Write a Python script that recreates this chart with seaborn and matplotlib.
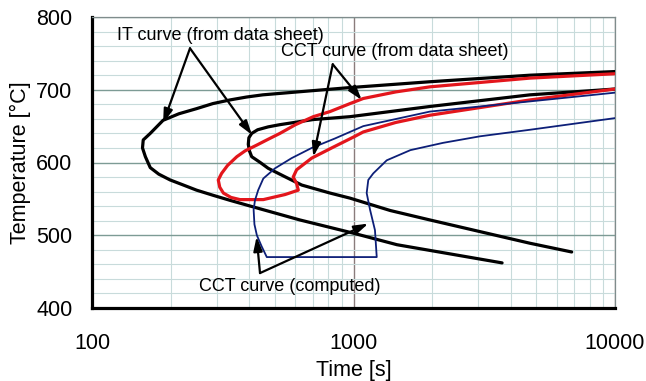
import numpy as np
import pandas as pd
import seaborn as sns
import matplotlib
matplotlib.use("Agg")
import matplotlib.pyplot as plt
from matplotlib.ticker import MultipleLocator, LogLocator, FixedLocator, NullFormatter

# ---- data ----
it_big_time = [10000, 4730, 1960, 970, 610, 450, 390, 337, 290, 251, 215, 187, 167, 157, 156, 160, 167, 180, 199, 220, 251, 290, 337, 413, 624, 995, 1466, 3700]
it_big_temp = [725, 720, 711, 703, 697, 693, 690, 686, 681, 674, 667, 658, 640, 631, 620, 608, 593, 584, 576, 570, 562, 555, 548, 539, 521, 503, 487, 462]

it_small_time = [10000, 4730, 1960, 970, 700, 523, 472, 430, 408, 398, 396, 400, 408, 440, 472, 550, 634, 813, 970, 1382, 1961, 4730, 6830]
it_small_temp = [701, 693, 677, 663, 659, 652, 649, 645, 640, 634, 625, 616, 608, 600, 592, 580, 569, 558, 551, 534, 521, 489, 477]

cct_sheet_time = [10000, 4730, 1960, 1450, 1090, 970, 813, 702, 600, 523, 472, 427, 385, 358, 330, 313, 304, 308, 318, 340, 368, 452, 548, 615, 606, 588, 606, 692, 825, 1013, 1090, 1450, 1960, 4730, 10000]
cct_sheet_temp = [722, 716, 704, 697, 688, 681, 670, 663, 652, 640, 632, 624, 616, 608, 596, 585, 576, 566, 558, 552, 549, 549, 556, 562, 571, 580, 590, 606, 620, 636, 642, 655, 665, 686, 701]

cct_comp_time = [10000, 4730, 1960, 1090, 1013, 849, 692, 580, 501, 452, 432, 420, 415, 418, 427, 445, 466, 1227, 1208, 1157, 1123, 1139, 1190, 1340, 1650, 2200, 3046, 4730, 10000]
cct_comp_temp = [696, 684, 670, 650, 645, 633, 620, 606, 592, 578, 562, 548, 535, 515, 500, 485, 470, 470, 507, 535, 558, 576, 585, 603, 617, 627, 636, 645, 661]

x_ticks = [100, 1000, 10000]
y_ticks = [400, 500, 600, 700, 800]

labels = ["IT curve (from data sheet)", "CCT curve (from data sheet)", "CCT curve (computed)"]

sns.set_style("white")
plt.rcParams['font.family'] = ['Liberation Sans', 'DejaVu Sans']
plt.rcParams['text.color'] = 'black'
plt.rcParams['axes.labelcolor'] = 'black'

fig = plt.figure(figsize=(6.46, 3.81), dpi=100)
ax = fig.add_axes([92/646, 1-308/381, (615-92)/646, (308-17)/381])

def frame(t, T, name):
    return pd.DataFrame({"time": t, "temp": T, "curve": name, "order": range(len(t))})

curves = [
    (frame(it_big_time, it_big_temp, "it1"), "#000000", 2.3),
    (frame(it_small_time, it_small_temp, "it2"), "#000000", 2.3),
    (frame(cct_sheet_time, cct_sheet_temp, "cct1"), "#e3161c", 2.3),
    (frame(cct_comp_time, cct_comp_temp, "cct2"), "#0d1f78", 1.3),
]
for df, col, lw in curves:
    sns.lineplot(data=df, x="time", y="temp", sort=False, estimator=None,
                 color=col, lw=lw, ax=ax, zorder=3)

ax.set_xscale("log")
ax.set_xlim(100, 10000)
ax.set_ylim(400, 800)
ax.xaxis.set_major_locator(FixedLocator(x_ticks))
ax.set_xticklabels([str(v) for v in x_ticks])
ax.xaxis.set_minor_locator(LogLocator(base=10, subs=np.arange(2, 10)))
ax.xaxis.set_minor_formatter(NullFormatter())
ax.yaxis.set_major_locator(FixedLocator(y_ticks))
ax.yaxis.set_minor_locator(MultipleLocator(20))

ax.grid(which="minor", axis="both", color="#c8dbdb", lw=0.8, zorder=0)
ax.grid(which="major", axis="y", color="#7d9b95", lw=1.0, zorder=1)
ax.grid(which="major", axis="x", color="#8a7c7c", lw=1.0, zorder=1)
ax.set_axisbelow(True)

for s in ["left", "bottom"]:
    ax.spines[s].set_color("black")
    ax.spines[s].set_linewidth(2.3)
for s in ["top", "right"]:
    ax.spines[s].set_color("#7f8c8c")
    ax.spines[s].set_linewidth(0.9)

ax.tick_params(which="major", direction="out", length=5, width=2.3, labelsize=15.5, pad=9,
               colors="black", labelcolor="black")
ax.tick_params(which="minor", length=0)
ax.tick_params(axis="x", pad=13)

ax.set_xlabel("Time [s]", fontsize=15.5, labelpad=4, color="black")
ax.set_ylabel("Temperature [°C]", fontsize=15.5, labelpad=4, color="black")

# annotations
aprops = dict(arrowstyle="-|>,head_width=0.22,head_length=0.7", color="black", lw=1.6,
              shrinkA=0, shrinkB=0, mutation_scale=12)
ax.text(311, 775, labels[0], fontsize=13, ha="center", va="center", color="black", zorder=5)
for tip in [(187, 654), (409, 638)]:
    ax.annotate("", xy=tip, xytext=(237, 757), arrowprops=aprops, zorder=5)

ax.text(1441, 752, labels[1], fontsize=13, ha="center", va="center", color="black", zorder=5)
for tip in [(1075, 686), (702, 608)]:
    ax.annotate("", xy=tip, xytext=(833, 735), arrowprops=aprops, zorder=5)

ax.text(571, 429, labels[2], fontsize=13, ha="center", va="center", color="black", zorder=5)
for tip in [(426, 498), (1139, 516)]:
    ax.annotate("", xy=tip, xytext=(439, 448), arrowprops=aprops, zorder=5)

fig.savefig("out.png", dpi=100)
